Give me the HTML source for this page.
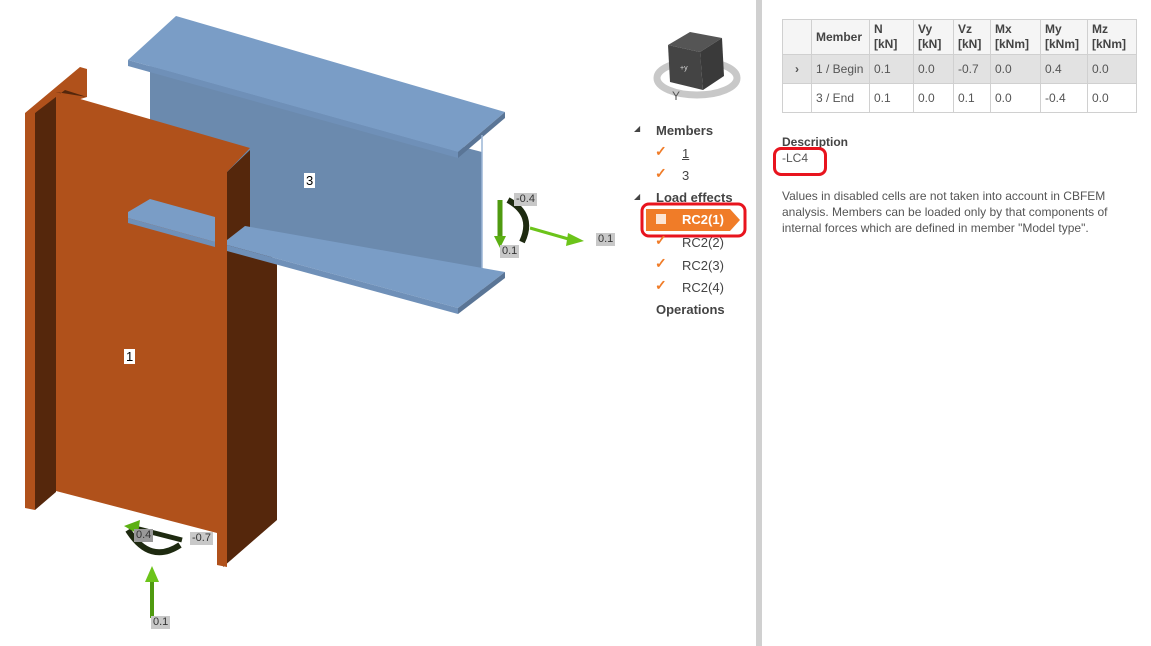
<!DOCTYPE html>
<html><head><meta charset="utf-8"><style>
body{margin:0;width:1151px;height:646px;overflow:hidden;background:#fff;font-family:"Liberation Sans",sans-serif;position:relative}
.abs{position:absolute}
.lbl{position:absolute;background:#c8c8c8;font-size:11px;color:#333;padding:0 2px;line-height:13px}
.tree{position:absolute;font-size:13px;color:#444}
.chk{position:absolute;color:#f07c28;font-size:14px;font-weight:bold}
table{position:absolute;left:782px;top:19px;border-collapse:collapse;font-size:12px;color:#555}
td{border:1px solid #d0d0d0;padding:0 4px;height:28px;vertical-align:middle}
th{border:1px solid #d0d0d0;padding:0 4px;height:34px;text-align:left;font-weight:bold;color:#444;font-size:12px;line-height:15px}
</style></head><body>
<svg class="abs" style="left:0;top:0" width="760" height="646">
<polygon points="150,66 482,152 482,292 250,228 150,200" fill="#6b8aae"/>
<polygon points="128,60 176,16 505,112 458,152" fill="#7a9dc6"/>
<polygon points="128,60 458,152 458,158 128,66" fill="#6f90b8"/>
<polygon points="458,152 505,112 505,118 458,158" fill="#5a7596"/>
<line x1="482" y1="135" x2="482" y2="292" stroke="#9bb5d5" stroke-width="1.5"/>
<polygon points="227,172 250,150 250,245 277,260 277,520 223,567" fill="#55270c"/>
<polygon points="227,240 245,226 505,272 458,308 227,245" fill="#7a9dc6"/>
<polygon points="227,245 458,308 458,314 227,251" fill="#6f90b8"/>
<polygon points="458,308 505,272 505,278 458,314" fill="#5a7596"/>
<polygon points="25,113 80,67 87,69 87,97 35,113 35,510 25,508" fill="#b0511b"/>
<polygon points="35,113 65,90 87,97 56,92 56,492 35,510" fill="#55270c"/>
<polygon points="56,92 250,148 227,172 227,567 217,565 217,533 56,491" fill="#b0511b"/>
<polygon points="128,212 150,199 215,217 215,242 128,218" fill="#7a9dc6"/>
<polygon points="128,218 215,242 215,247 128,223" fill="#6f90b8"/>
<path d="M500,200 L500,238" stroke="#4f9a10" stroke-width="5"/>
<polygon points="494,236 506,236 500,248" fill="#5cb013"/>
<path d="M508,200 Q535,215 522,242" stroke="#1e2a10" stroke-width="6" fill="none"/>
<line x1="530" y1="228" x2="572" y2="240" stroke="#6cc41a" stroke-width="3"/>
<polygon points="568,233 584,241 566,246" fill="#6cc41a"/>
<path d="M128,530 Q150,565 180,545" stroke="#1e2a10" stroke-width="6" fill="none"/>
<path d="M135,528 L182,540" stroke="#1e2a10" stroke-width="5"/>
<polygon points="124,526 140,520 138,534" fill="#5cb013"/>
<line x1="152" y1="580" x2="152" y2="618" stroke="#4f9a10" stroke-width="4"/>
<polygon points="145,582 159,582 152,566" fill="#6cc41a"/>
<ellipse cx="697" cy="78" rx="40" ry="17" fill="none" stroke="#c8c8c8" stroke-width="7"/>
<polygon points="668,45 690,32 722,38 700,52" fill="#555"/>
<polygon points="668,45 700,52 703,90 670,82" fill="#444"/>
<polygon points="700,52 722,38 724,76 703,90" fill="#3a3a3a"/>
<text x="680" y="70" font-size="7" fill="#ddd" font-family="Liberation Sans">+y</text>
<text x="672" y="100" font-size="12" fill="#555" font-family="Liberation Sans">Y</text>
</svg>
<div class="abs" style="left:304px;top:173px;background:#fff;font-size:13px;padding:0 2px">3</div>
<div class="abs" style="left:124px;top:349px;background:#fff;font-size:13px;padding:0 2px">1</div>
<div class="lbl" style="left:514px;top:193px">-0.4</div>
<div class="lbl" style="left:500px;top:245px">0.1</div>
<div class="lbl" style="left:596px;top:233px">0.1</div>
<div class="lbl" style="left:134px;top:529px;background:#999">0.4</div>
<div class="lbl" style="left:190px;top:532px">-0.7</div>
<div class="lbl" style="left:151px;top:616px">0.1</div>
<div class="tree" style="left:634px;top:124px;font-size:8px">◢</div>
<div class="tree" style="left:656px;top:123px;font-weight:bold">Members</div>
<div class="chk" style="left:655px;top:143px">✓</div><div class="tree" style="left:682px;top:146px;text-decoration:underline">1</div>
<div class="chk" style="left:655px;top:165px">✓</div><div class="tree" style="left:682px;top:168px">3</div>
<div class="tree" style="left:634px;top:192px;font-size:8px">◢</div>
<div class="tree" style="left:656px;top:190px;font-weight:bold">Load effects</div>
<svg class="abs" style="left:640px;top:202px" width="108" height="36">
<polygon points="6,7 90,7 100,18 90,29 6,29" fill="#f07c28"/>
<rect x="2" y="2" width="103" height="32" rx="7" fill="none" stroke="#e8141e" stroke-width="3"/>
<rect x="16" y="12" width="10" height="10" fill="#fff" opacity="0.8"/>
</svg>
<div class="tree" style="left:682px;top:212px;color:#fff;font-weight:bold">RC2(1)</div>
<div class="chk" style="left:655px;top:232px">✓</div><div class="tree" style="left:682px;top:235px">RC2(2)</div>
<div class="chk" style="left:655px;top:255px">✓</div><div class="tree" style="left:682px;top:258px">RC2(3)</div>
<div class="chk" style="left:655px;top:277px">✓</div><div class="tree" style="left:682px;top:280px">RC2(4)</div>
<div class="tree" style="left:656px;top:302px;font-weight:bold">Operations</div>
<div class="abs" style="left:756px;top:0;width:6px;height:646px;background:#d0d0d0"></div>
<table>
<tr style="background:#f5f5f5"><th style="width:20px"></th><th style="width:49px">Member</th><th style="width:35px">N<br>[kN]</th><th style="width:31px">Vy<br>[kN]</th><th style="width:28px">Vz<br>[kN]</th><th style="width:41px">Mx<br>[kNm]</th><th style="width:38px">My<br>[kNm]</th><th style="width:40px">Mz<br>[kNm]</th></tr>
<tr style="background:#e2e2e2"><td style="text-align:center;font-weight:bold">›</td><td>1 / Begin</td><td>0.1</td><td>0.0</td><td>-0.7</td><td>0.0</td><td>0.4</td><td>0.0</td></tr>
<tr><td></td><td>3 / End</td><td>0.1</td><td>0.0</td><td>0.1</td><td>0.0</td><td>-0.4</td><td>0.0</td></tr>
</table>
<div class="abs" style="left:782px;top:135px;font-size:12px;font-weight:bold;color:#444">Description</div>
<div class="abs" style="left:782px;top:151px;font-size:12px;color:#555">-LC4</div>
<div class="abs" style="left:773px;top:147px;width:48px;height:23px;border:3px solid #e8141e;border-radius:8px"></div>
<div class="abs" style="left:782px;top:188px;width:360px;font-size:12px;line-height:16px;color:#555">Values in disabled cells are not taken into account in CBFEM analysis. Members can be loaded only by that components of internal forces which are defined in member "Model type".</div>
</body></html>
